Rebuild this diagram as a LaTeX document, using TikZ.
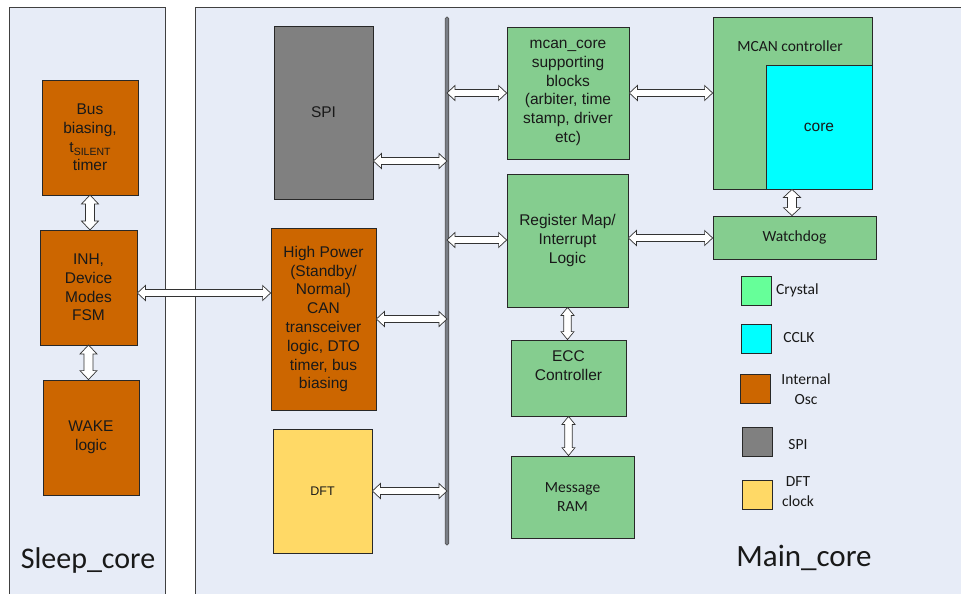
\documentclass[tikz,border=0pt]{standalone}
\usepackage{fontspec}
\setmainfont{Liberation Sans}
\newfontfamily\calfont{Carlito}
\usetikzlibrary{calc}
\definecolor{panelbg}{RGB}{231,236,247}
\definecolor{orng}{RGB}{204,102,0}
\definecolor{grn}{RGB}{133,205,143}
\definecolor{cyn}{RGB}{0,255,255}
\definecolor{gry}{RGB}{128,128,128}
\definecolor{ylw}{RGB}{255,217,102}
\definecolor{crys}{RGB}{102,255,153}
\definecolor{edge}{RGB}{40,40,40}
\definecolor{busc}{RGB}{122,126,134}
\newcommand\harr[5]{\path let \p1=(#1), \p2=(#2) in [arr] (\x1,\y1) -- (\x1+#5,\y1+#4) -- (\x1+#5,\y1+#3) -- (\x2-#5,\y1+#3) -- (\x2-#5,\y1+#4) -- (\x2,\y1) -- (\x2-#5,\y1-#4) -- (\x2-#5,\y1-#3) -- (\x1+#5,\y1-#3) -- (\x1+#5,\y1-#4) -- cycle;}
\newcommand\varr[5]{\path let \p1=(#1), \p2=(#2) in [arr] (\x1,\y1) -- (\x1+#4,\y1-#5) -- (\x1+#3,\y1-#5) -- (\x1+#3,\y2+#5) -- (\x1+#4,\y2+#5) -- (\x1,\y2) -- (\x1-#4,\y2+#5) -- (\x1-#3,\y2+#5) -- (\x1-#3,\y1-#5) -- (\x1-#4,\y1-#5) -- cycle;}
\tikzset{
  panel/.style={draw=black!75, line width=0.8pt, fill=panelbg},
  blk/.style={draw=edge, line width=0.8pt, inner sep=0pt, align=center, text=black!90,
    font=\fontsize{15.5}{18.8}\selectfont},
  cblk/.style={blk, font=\calfont\fontsize{15.5}{19.5}\selectfont},
  lgbox/.style={draw=edge, line width=0.8pt, minimum width=30, minimum height=29, inner sep=0pt},
  lgtxt/.style={align=center, inner sep=0pt, text=black!90, font=\calfont\fontsize{15.5}{20}\selectfont},
  arr/.style={draw=black!80, line width=0.7pt, fill=white, line join=miter},
  title/.style={inner sep=0pt, text=black!90, font=\calfont\fontsize{30}{34}\selectfont}
}
\begin{document}
\begin{tikzpicture}[x=1pt,y=-1pt]
\useasboundingbox (0,0) rectangle (961,594);
\fill[white] (0,0) rectangle (961,594);
% panels
\draw[panel] (9,7) rectangle (165,600);
\draw[panel] (195,7) rectangle (970,600);
% sleep core blocks
\node[blk,fill=orng,minimum width=96,minimum height=115] (busb) at (90,137.5) {Bus\\biasing,\\t\raisebox{-0.35ex}{\fontsize{10.5}{10}\selectfont SILENT}\\timer};
\node[blk,fill=orng,minimum width=97,minimum height=115] (inh) at (88.5,287.5) {INH,\\Device\\Modes\\FSM};
\node[blk,fill=orng,minimum width=96,minimum height=115] (wake) at (91,437.5) {WAKE\\logic};
\node[title] (sleept) at (88,560) {Sleep\_core};
% main core blocks
\node[blk,fill=gry,minimum width=99,minimum height=173] (spi) at (323.5,112.5) {SPI};
\node[blk,fill=orng,minimum width=105,minimum height=182] (hp) at (323.5,319) {High Power\\(Standby/\\Normal)\\CAN\\transceiver\\logic, DTO\\timer, bus\\biasing};
\node[blk,fill=ylw,minimum width=99,minimum height=124,font=\fontsize{12.5}{15}\selectfont] (dft) at (322.5,491) {DFT};
\node[draw=black!70, line width=0.6pt, fill=busc, rounded corners=1.5pt, minimum width=3.5, minimum height=528, inner sep=0pt] (bus) at (447,281) {};
\node[blk,fill=grn,minimum width=122,minimum height=132] (mcan) at (568,93) {mcan\_core\\supporting\\blocks\\(arbiter, time\\stamp, driver\\etc)};
\node[blk,fill=grn,minimum width=121,minimum height=133] (reg) at (567.5,240.5) {Register Map/\\Interrupt\\Logic};
\node[blk,fill=grn,minimum width=115,minimum height=76] (ecc) at (568.5,378) {ECC\\Controller\\\strut};
\node[cblk,fill=grn,minimum width=123,minimum height=82] (ram) at (572.5,497) {Message\\RAM};
\node[blk,fill=grn,minimum width=159,minimum height=172] (mcanc) at (792.5,103) {};
\node[lgtxt] (mcanct) at (790,46) {MCAN controller};
\node[blk,fill=cyn,minimum width=106,minimum height=124] (core) at (819,127) {core};
\node[cblk,fill=grn,minimum width=163,minimum height=43] (wd) at (794.5,237.5) {Watchdog};
% legend
\node[lgbox,fill=crys] (lg1) at (756,290.5) {};
\node[lgtxt,anchor=west] (lg1t) at (776,290) {Crystal};
\node[lgbox,fill=cyn] (lg2) at (756,338.5) {};
\node[lgtxt] (lg2t) at (799,338) {CCLK};
\node[lgbox,fill=orng] (lg3) at (755.5,388.5) {};
\node[lgtxt] (lg3t) at (806,389) {Internal\\Osc};
\node[lgbox,fill=gry] (lg4) at (757.5,441.5) {};
\node[lgtxt] (lg4t) at (798,445) {SPI};
\node[lgbox,fill=ylw] (lg5) at (757.5,494.5) {};
\node[lgtxt] (lg5t) at (798,492) {DFT\\clock};
\node[title,font=\calfont\fontsize{31}{34}\selectfont] (maint) at (804,558) {Main\_core};
% arrows
\varr{busb.south |- 0,195}{inh.north |- 0,230}{4.5pt}{8.5pt}{9pt}
\varr{inh.south |- 0,345}{wake.north}{4.5pt}{8.5pt}{9pt}
\harr{inh.east |- 0,293}{hp.west}{3.5pt}{7.5pt}{8pt}
\harr{spi.east |- 0,161}{bus.center}{3.5pt}{7.5pt}{8pt}
\harr{bus.center |- 0,93}{mcan.west}{3.5pt}{7.5pt}{8pt}
\harr{bus.center |- 0,240}{reg.west}{3.5pt}{7.5pt}{8pt}
\harr{hp.east |- 0,319}{bus.center}{3.5pt}{7.5pt}{8pt}
\harr{dft.east |- 0,491}{bus.center}{3.5pt}{7.5pt}{8pt}
\harr{mcan.east |- 0,93}{mcanc.west}{3.5pt}{7.5pt}{8pt}
\harr{reg.east |- 0,238}{wd.west}{3.5pt}{7.5pt}{8pt}
\varr{mcanc.south -| 792,0}{wd.north}{4.5pt}{8.5pt}{8pt}
\varr{reg.south}{ecc.north}{3.8pt}{6.5pt}{8pt}
\varr{ecc.south}{ram.north}{3.8pt}{6.5pt}{8pt}
\end{tikzpicture}
\end{document}
